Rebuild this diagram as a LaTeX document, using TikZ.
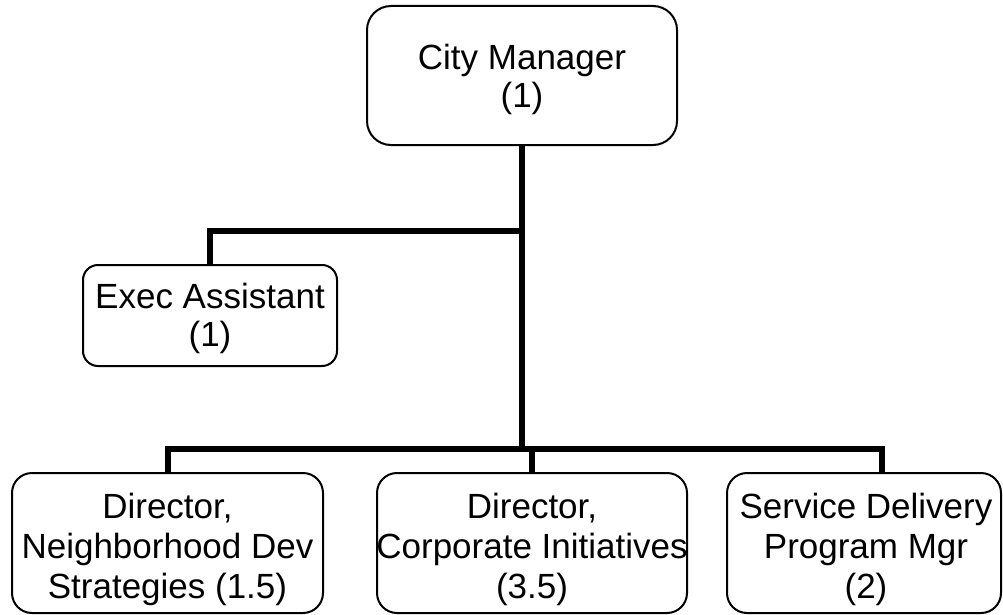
\documentclass[tikz,border=0pt]{standalone}
\usepackage{fontspec}
\setmainfont{Liberation Sans}
\begin{document}
\begin{tikzpicture}[x=1pt,y=-1pt,
  box/.style={draw=black,line width=2pt,rounded corners=#1,fill=white,inner sep=0pt},
  box/.default=20pt,
  lbl/.style={align=center,inner sep=0pt,font=\fontsize{35}{38}\selectfont},
  lbl3/.style={align=center,inner sep=0pt,font=\fontsize{35}{40}\selectfont},
  conn/.style={draw=black,line width=6.5pt,line join=miter,line cap=butt}]
\useasboundingbox (0,0) rectangle (1003,615);

% boxes
\node[box=24pt,minimum width=310pt,minimum height=139pt] (cm) at (522,75.5) {};
\node[box=15pt,minimum width=254pt,minimum height=101pt] (ea) at (210,315.5) {};
\node[box,minimum width=311pt,minimum height=140pt] (nd) at (167.5,543) {};
\node[box,minimum width=310pt,minimum height=140pt] (ci) at (532,543) {};
\node[box,minimum width=274pt,minimum height=140pt] (sd) at (864,543) {};

% labels
\node[lbl] (cm-t) at (522,79) {City Manager\\(1)};
\node[lbl] (ea-t) at (210,318.5) {Exec Assistant\\(1)};
\node[lbl3] (nd-t) at (167.5,549) {Director,\\Neighborhood Dev\\Strategies (1.5)};
\node[lbl3] (ci-t) at (532,549) {Director,\\Corporate Initiatives\\(3.5)};
\node[lbl3] (sd-t) at (866,549) {Service Delivery\\Program Mgr\\(2)};

% junction points
\coordinate (eaj) at (210,231);
\coordinate (busL) at (168,449);
\coordinate (busM) at (532,449);
\coordinate (busR) at (882,449);

% connectors
\draw[conn] (cm.south) -- (cm.south |- busL);
\draw[conn] (eaj -| cm.south) -- (eaj) -- (ea.north);
\draw[conn] (nd.north -| busL) -- (busL) -- (busR) -- (busR |- sd.north);
\draw[conn] (busM) -- (ci.north);
\end{tikzpicture}
\end{document}
